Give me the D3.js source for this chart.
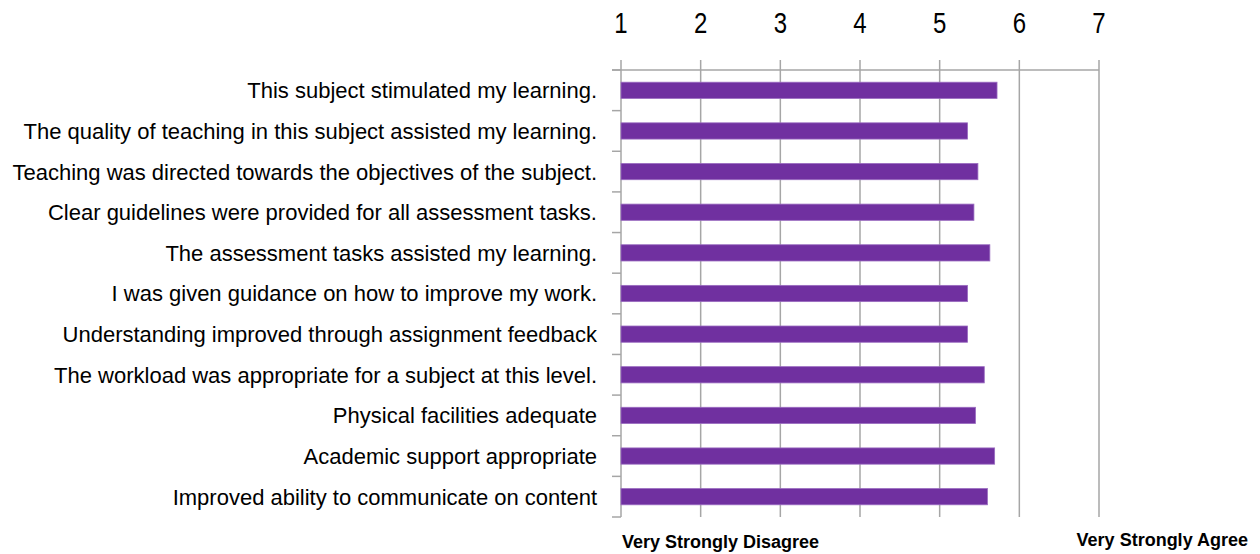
<!DOCTYPE html>
<html><head><meta charset="utf-8">
<script src="https://cdn.jsdelivr.net/npm/d3@7"></script>
<style>
html,body{margin:0;padding:0;background:#fff;}
svg{display:block;}
text{font-family:"Liberation Sans Narrow","Arial Narrow","Liberation Sans",Arial,sans-serif;fill:#000;}
</style></head>
<body>
<svg id="chart" width="1260" height="554"></svg>
<script>
const categories = [
  "This subject stimulated my learning.",
  "The quality of teaching in this subject assisted my learning.",
  "Teaching was directed towards the objectives of the subject.",
  "Clear guidelines were provided for all assessment tasks.",
  "The assessment tasks assisted my learning.",
  "I was  given guidance on how to improve my work.",
  "Understanding improved through assignment feedback",
  "The workload was appropriate for a subject at this level.",
  "Physical facilities adequate",
  "Academic support appropriate",
  "Improved ability to communicate on content"
];
const values = [5.72, 5.35, 5.48, 5.43, 5.63, 5.35, 5.35, 5.56, 5.45, 5.69, 5.60];
const tickValues = [1, 2, 3, 4, 5, 6, 7];
const scaleLabels = ["Very Strongly Disagree", "Very Strongly Agree"];

(function () {
const svg = d3.select("#chart");
const pl = 621, pr = 1099, pt = 70, pb = 517;

const x = d3.scaleLinear().domain([1, 7]).range([pl, pr]);
const y = d3.scaleBand().domain(categories).range([pt, pb]).paddingInner(0.6).paddingOuter(0.3);

const grid = "#a6a6a6";

svg.append("g").selectAll("line").data(tickValues).join("line")
  .attr("x1", d => x(d)).attr("x2", d => x(d))
  .attr("y1", pt - 10).attr("y2", pb)
  .attr("stroke", grid).attr("stroke-width", 1.5);

svg.append("line").attr("x1", pl - 9).attr("x2", pr).attr("y1", pt).attr("y2", pt)
  .attr("stroke", grid).attr("stroke-width", 1.5);

const step = (pb - pt) / categories.length;
const boundaries = d3.range(categories.length + 1).map(i => pt + i * step);
svg.append("g").selectAll("line").data(boundaries).join("line")
  .attr("x1", pl - 9).attr("x2", pl)
  .attr("y1", d => d).attr("y2", d => d)
  .attr("stroke", grid).attr("stroke-width", 1.5);

svg.append("g").selectAll("text").data(tickValues).join("text")
  .attr("transform", d => `translate(${x(d)},33) scale(0.8,1)`)
  .attr("text-anchor", "middle")
  .attr("font-size", 30)
  .text(d => d);

svg.append("g").selectAll("rect").data(values).join("rect")
  .attr("x", x(1))
  .attr("y", (d, i) => y(categories[i]))
  .attr("width", d => x(d) - x(1))
  .attr("height", y.bandwidth())
  .attr("fill", "#7030a0")
  .attr("stroke", "#9a6cc0").attr("stroke-width", 0.8);

svg.append("g").selectAll("text").data(categories).join("text")
  .attr("x", 597)
  .attr("y", d => y(d) + y.bandwidth() / 2)
  .attr("dy", "0.36em")
  .attr("text-anchor", "end")
  .attr("font-size", 22)
  .text(d => d);

svg.append("text").attr("x", 622).attr("y", 548).attr("font-size", 18).attr("font-weight", "bold").text(scaleLabels[0]);
svg.append("text").attr("x", 1248).attr("y", 546).attr("text-anchor", "end").attr("font-size", 18).attr("font-weight", "bold").text(scaleLabels[1]);
})();
</script>
</body></html>
